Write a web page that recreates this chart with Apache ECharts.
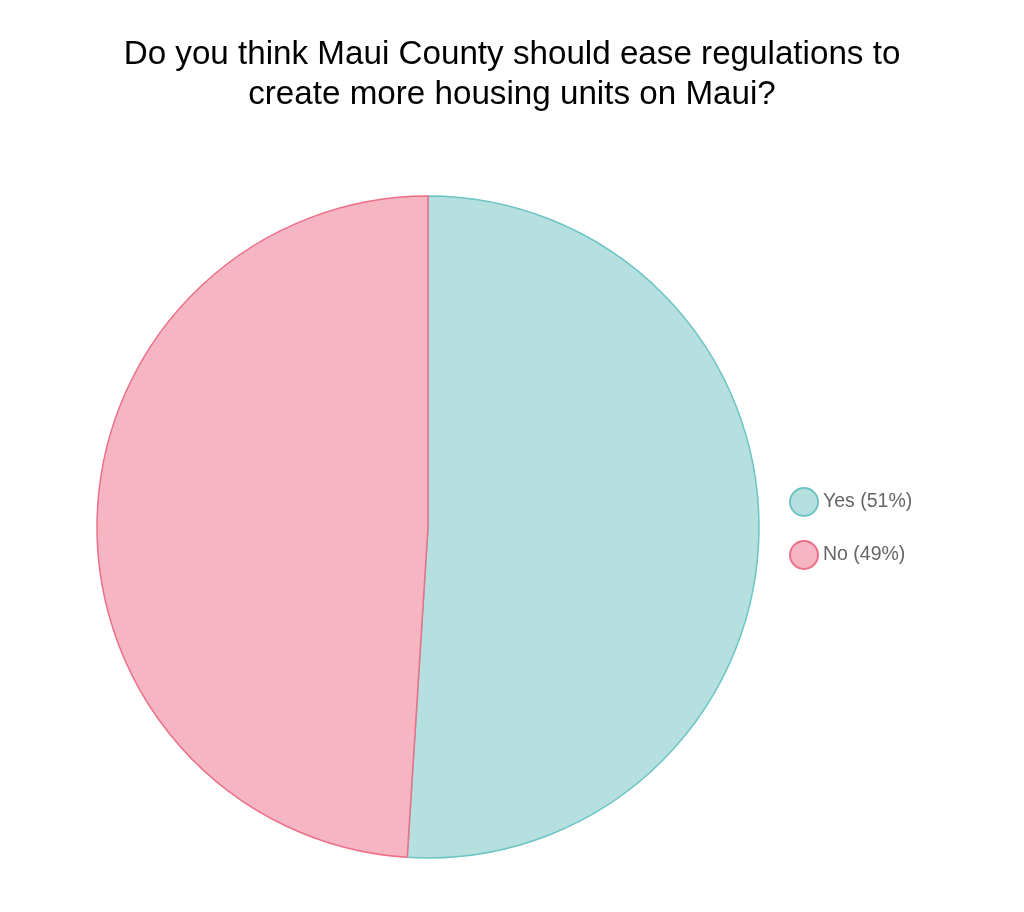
<!DOCTYPE html>
<html>
<head>
<meta charset="utf-8">
<script src="https://cdn.jsdelivr.net/npm/echarts@6/dist/echarts.min.js"></script>
<style>
html,body{margin:0;padding:0;background:#fff;}
#chart{width:1024px;height:912px;}
</style>
</head>
<body>
<div id="chart"></div>
<script>
var titleText = "Do you think Maui County should ease regulations to\ncreate more housing units on Maui?";
var categories = ["Yes", "No"];
var values = [51, 49];
var fillColors = ["#b6dfdf", "#f5b5c2"];
var borderColors = ["#6cc4c4", "#ec6f88"];

var chart = echarts.init(document.getElementById('chart'), null, {renderer: 'canvas'});
var data = categories.map(function (c, i) {
  return {
    name: c,
    value: values[i],
    itemStyle: {color: fillColors[i], borderColor: borderColors[i], borderWidth: 1.5}
  };
});
var total = values.reduce(function (a, b) { return a + b; }, 0);
chart.setOption({
  animation: false,
  backgroundColor: '#ffffff',
  title: {
    text: titleText,
    left: 'center',
    top: 30,
    textStyle: {
      fontFamily: 'Liberation Sans, Arial, sans-serif',
      fontSize: 33.2,
      fontWeight: 'normal',
      color: '#000',
      lineHeight: 40
    }
  },
  legend: {
    orient: 'vertical',
    left: 789,
    top: 487,
    padding: 0,
    icon: 'circle',
    itemWidth: 28,
    itemHeight: 28,
    itemGap: 23,
    data: categories,
    formatter: function (name) {
      var i = categories.indexOf(name);
      return name + ' (' + Math.round(values[i] / total * 100) + '%)';
    },
    textStyle: {
      fontFamily: 'Liberation Sans, Arial, sans-serif',
      fontSize: 19.5,
      color: '#666'
    }
  },
  series: [{
    type: 'pie',
    center: [428, 527],
    radius: [0, 331],
    startAngle: 90,
    clockwise: true,
    label: {show: false},
    labelLine: {show: false},
    emphasis: {disabled: true},
    data: data
  }]
});
</script>
</body>
</html>
